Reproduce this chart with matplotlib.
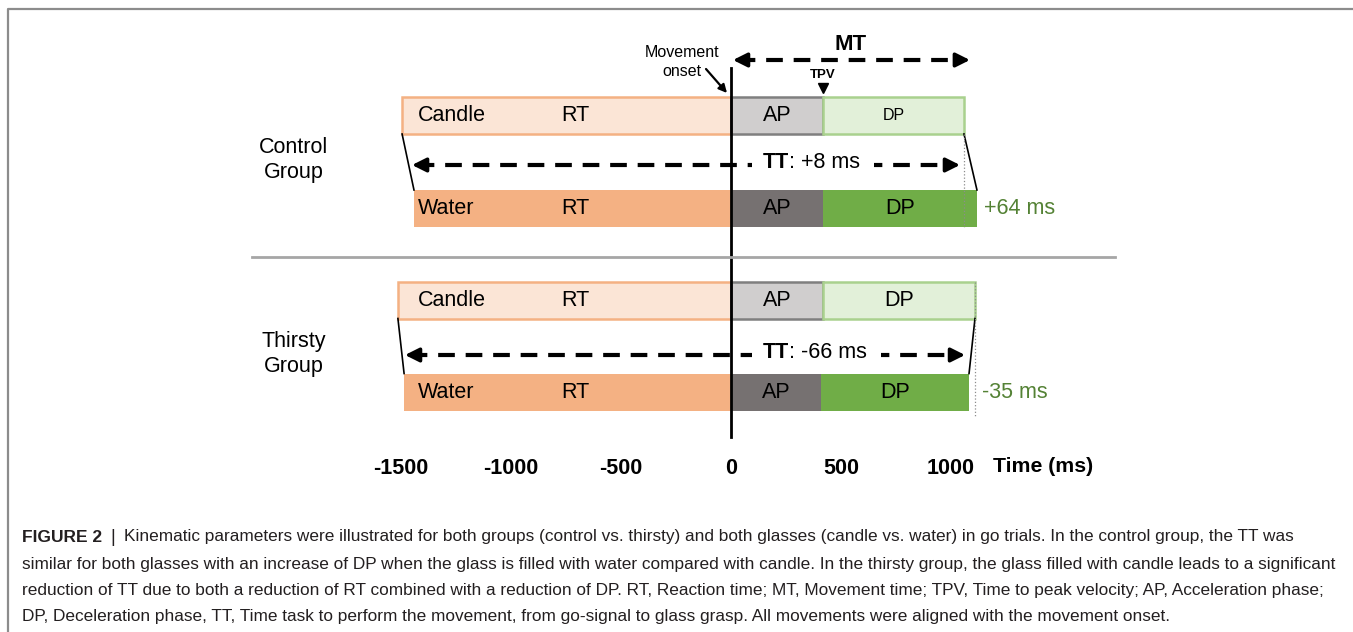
import matplotlib
matplotlib.use("Agg")
import matplotlib.pyplot as plt
from matplotlib import font_manager
from matplotlib.transforms import Affine2D

# durations in ms, all trials aligned on movement onset (t = 0)
groups = ["Control\nGroup", "Thirsty\nGroup"]
glasses = ["Candle", "Water"]
rt = [[1495, 1441], [1514, 1486]]   # reaction time (before onset)
ap = [[418, 418], [418, 409]]       # acceleration phase
dp = [[641, 700], [691, 673]]       # deceleration phase
tt_diff = ["+8 ms", "-66 ms"]
dp_diff = ["+64 ms", "-35 ms"]
ticks = [-1500, -1000, -500, 0, 500, 1000]
mt_end = 1086

caption = [
    "Kinematic parameters were illustrated for both groups (control vs. thirsty) and both glasses (candle vs. water) in go trials. In the control group, the TT was",
    "similar for both glasses with an increase of DP when the glass is filled with water compared with candle. In the thirsty group, the glass filled with candle leads to a significant",
    "reduction of TT due to both a reduction of RT combined with a reduction of DP. RT, Reaction time; MT, Movement time; TPV, Time to peak velocity; AP, Acceleration phase;",
    "DP, Deceleration phase, TT, Time task to perform the movement, from go-signal to glass grasp. All movements were aligned with the movement onset.",
]


def pick_font(names):
    for n in names:
        try:
            font_manager.findfont(n, fallback_to_default=False)
            return n
        except ValueError:
            pass
    return "DejaVu Sans"


SANS = pick_font(["Liberation Sans", "Arial"])
NARROW = pick_font(["Liberation Sans Narrow", "Liberation Sans"])
plt.rcParams['font.family'] = SANS

W, H = 1353, 632
ZERO = 731      # pixel of movement onset
SCALE = 0.22    # pixels per ms
BAR_H = 37
row_y = [[115.5, 208.5], [300, 392]]
tt_y = [165, 355]
group_y = [160, 354]

fig = plt.figure(figsize=(W / 100, H / 100), dpi=100)
ax = fig.add_axes([0, 0, 1, 1])
ax.set_xlim(-ZERO / SCALE, (W - ZERO) / SCALE)
ax.set_ylim(H, 0)
ax.axis('off')
PX = Affine2D().scale(1, -1).translate(0, H)   # pixel coords, y down
renderer = fig.canvas.get_renderer()


def px2ms(n):
    return n / SCALE


def dashed_arrow(x0, x1, y, gaps=None):
    # dashed line with filled heads at both ends
    head = px2ms(14)
    segs = [(x0 + head, x1 - head)] if gaps is None else [(x0 + head, gaps[0]), (gaps[1], x1 - head)]
    for a, b in segs:
        ax.plot([a, b], [y, y], color='k', lw=3, linestyle=(2, (4, 2.6)), dash_capstyle='butt')
    for tip, back in [(x0, x0 + head), (x1, x1 - head)]:
        ax.annotate("", xy=(tip, y), xytext=(back, y),
                    arrowprops=dict(arrowstyle='-|>', color='k', lw=2.5, mutation_scale=21,
                                    shrinkA=0, shrinkB=0))


fills = [["#FBE5D6", "#D0CECE", "#E2F0D9"], ["#F4B183", "#767171", "#70AD47"]]
edges = [["#F4B183", "#7F7F7F", "#A9D18E"], ["none", "none", "none"]]

for g in range(2):
    for k in range(2):
        y = row_y[g][k]
        start = -rt[g][k]
        ap_end = ap[g][k]
        ax.barh(y, rt[g][k], left=start, height=BAR_H, color=fills[k][0],
                edgecolor=edges[k][0], lw=1.8)
        ax.barh(y, ap[g][k], left=0, height=BAR_H, color=fills[k][1],
                edgecolor=edges[k][1], lw=1.8)
        ax.barh(y, dp[g][k], left=ap_end, height=BAR_H, color=fills[k][2],
                edgecolor=edges[k][2], lw=1.8)
        ax.text(418, y, glasses[k], transform=PX, ha='left', va='center', fontsize=15.5)
        ax.text(575, y, "RT", transform=PX, ha='center', va='center', fontsize=15.5)
        ax.text(ap_end / 2, y, "AP", ha='center', va='center', fontsize=15.5)
        dp_size = 11.5 if (g == 0 and k == 0) else 15.5
        ax.text(ap_end + dp[g][k] / 2, y, "DP", ha='center', va='center', fontsize=dp_size)

    yc, yw = row_y[g]
    sc, sw = -rt[g][0], -rt[g][1]
    ec, ew = ap[g][0] + dp[g][0], ap[g][1] + dp[g][1]
    # connectors between candle and water bars
    ax.plot([sc, sw], [yc + BAR_H / 2, yw - BAR_H / 2], color='k', lw=1.2)
    ax.plot([ec, ew], [yc + BAR_H / 2, yw - BAR_H / 2], color='k', lw=1.2)
    y_top = yc + BAR_H / 2 if g == 0 else yc - BAR_H / 2
    ax.plot([ec, ec], [y_top, yw + BAR_H / 2 + (0 if g == 0 else 6)], color='#8C8C8C',
            lw=0.9, linestyle=':')

    ax.text(294, group_y[g], groups[g], transform=PX, ha='center', va='center',
            fontsize=15.5, linespacing=1.2)

    # TT arrow with text
    t1 = ax.text(763, tt_y[g] - 2, "TT", transform=PX, ha='left', va='center',
                 fontsize=15.5, fontweight='bold')
    bb = t1.get_window_extent(renderer)
    t2 = ax.text(bb.x1, tt_y[g] - 2, ": " + tt_diff[g], transform=PX, ha='left',
                 va='center', fontsize=15.5)
    bb2 = t2.get_window_extent(renderer)
    left = (sc + sw) / 2 + px2ms(4)
    right = min(ec, ew) - px2ms(4)
    gap = (px2ms(752 - ZERO), px2ms(bb2.x1 + 14 - ZERO))
    dashed_arrow(left, right, tt_y[g], gaps=gap)

    ax.text(max(ec, ew) + px2ms(7), yw, dp_diff[g], ha='left', va='center',
            fontsize=15.5, color='#548235')

# movement onset line
ax.plot([0, 0], [68, 437], color='k', lw=2)

# MT arrow, TPV
dashed_arrow(px2ms(2), mt_end, 60)
ax.text(mt_end / 2, 44, "MT", ha='center', va='center', fontsize=16, fontweight='bold')
ax.plot(ap[0][0], 88, marker='v', ms=7, color='k')
ax.text(ap[0][0], 75, "TPV", ha='center', va='center', fontsize=9.5, fontweight='bold')
ax.text(682, 62, "Movement\nonset", transform=PX, ha='center', va='center',
        fontsize=11.5, linespacing=1.4)
ax.annotate("", xy=(727, 93), xytext=(706, 69), xycoords=PX, textcoords=PX,
            arrowprops=dict(arrowstyle='-|>', color='k', lw=1.6, mutation_scale=12,
                            shrinkA=0, shrinkB=0))

# time axis labels
for t in ticks:
    ax.text(t, 468, str(t), ha='center', va='center', fontsize=15.5, fontweight='bold')
ax.text(993, 467, "Time (ms)", transform=PX, ha='left', va='center', fontsize=15.3,
        fontweight='bold')

# separator and frame
ax.plot([252, 1115], [257, 257], transform=PX, color='#A6A6A6', lw=2)
ax.plot([8, 8, W + 5], [H + 5, 9, 9], transform=PX, color='#8C8C8C', lw=1.6, clip_on=False)

# caption
cap_y = [537, 564, 590, 616]
head = ax.text(22, cap_y[0], "FIGURE 2", transform=PX, ha='left', va='center',
               fontsize=12.5, fontweight='bold', color='#231F20', family=NARROW)
hb = head.get_window_extent(renderer)
ax.text(hb.x1 + 8, cap_y[0], "|", transform=PX, ha='left', va='center', fontsize=13,
        color='#231F20', family=NARROW)
probe = ax.text(22, cap_y[1], caption[1], transform=PX, ha='left', va='center',
                fontsize=12.5, color='#231F20', family=NARROW)
size = 12.5 * (1337 - 22) / probe.get_window_extent(renderer).width
probe.remove()
for i, line in enumerate(caption):
    x0 = hb.x1 + 22 if i == 0 else 22
    ax.text(x0, cap_y[i], line, transform=PX, ha='left', va='center', fontsize=size,
            color='#231F20', family=NARROW)

fig.savefig("out.png", dpi=100)
